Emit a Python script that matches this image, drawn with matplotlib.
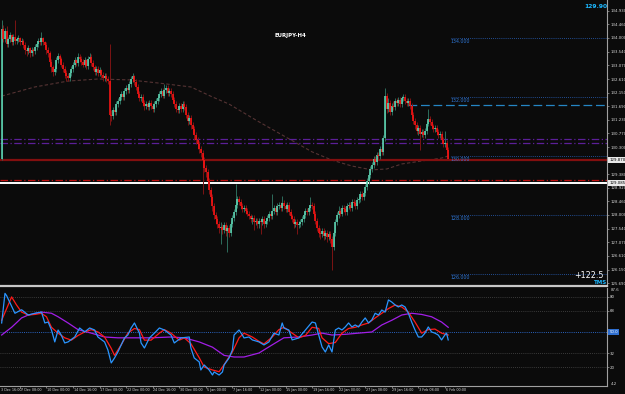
import matplotlib
matplotlib.use('Agg')
import matplotlib.pyplot as plt
import matplotlib.transforms as mtransforms
import numpy as np

# EURJPY H4 chart (MT4 style)

first_open = 129.90
closes = [
    134.30, 133.95, 134.25, 133.80, 133.95, 134.10, 133.85, 134.05, 133.90, 133.95,
    134.00, 133.85, 133.90, 133.75, 133.60, 133.55, 133.65, 133.50, 133.60, 133.55,
    133.70, 133.80, 133.90, 133.85, 134.00, 133.85, 133.75, 133.60, 133.50, 133.20,
    133.00, 132.85, 132.95, 133.25, 133.40, 133.30, 133.10, 132.95, 132.80, 132.70,
    132.65, 132.80, 132.95, 133.10, 133.25, 133.15, 133.35, 133.30, 133.20, 133.10,
    133.25, 133.05, 133.30, 133.35, 133.15, 133.00, 132.85, 132.95, 132.80, 132.90,
    132.75, 132.65, 132.70, 132.60, 132.55, 131.40, 131.35, 131.55, 131.50, 131.75,
    131.85, 132.00, 132.10, 132.00, 132.20, 132.30, 132.25, 132.45, 132.60, 132.70,
    132.50, 132.35, 132.10, 131.95, 132.00, 131.80, 131.70, 131.75, 131.65, 131.80,
    131.70, 131.60, 131.75, 131.85, 131.95, 132.10, 132.20, 132.05, 132.25, 132.30,
    132.15, 132.20, 132.10, 131.90, 131.75, 131.60, 131.55, 131.70, 131.60, 131.75,
    131.65, 131.40, 131.20, 131.30, 131.05, 130.90, 130.70, 130.55, 130.40, 130.25,
    130.10, 129.85, 129.60, 129.45, 129.15, 128.85, 128.60, 128.30, 128.00, 127.85,
    127.70, 127.55, 127.60, 127.50, 127.65, 127.45, 127.55, 127.40, 127.70, 127.90,
    128.10, 128.35, 128.55, 128.45, 128.30, 128.20, 128.25, 128.15, 128.05, 127.95,
    127.85, 127.90, 127.75, 127.80, 127.70, 127.80, 127.75, 127.85, 127.70, 127.80,
    127.90, 128.05, 127.95, 128.15, 128.25, 128.10, 128.30, 128.35, 128.25, 128.40,
    128.30, 128.20, 128.35, 128.10, 127.95, 127.85, 127.70, 127.75, 127.65, 127.70,
    127.75, 127.85, 128.00, 128.15, 128.10, 128.25, 128.35, 128.30, 128.05, 127.80,
    127.55, 127.40, 127.35, 127.45, 127.30, 127.40, 127.25, 127.35, 127.20, 126.90,
    127.40, 127.75, 128.00, 128.15, 128.05, 128.25, 128.20, 128.10, 128.30, 128.35,
    128.25, 128.45, 128.40, 128.30, 128.50, 128.55, 128.70, 128.60, 128.75, 128.95,
    129.15, 129.35, 129.55, 129.70, 129.90, 129.80, 130.05, 130.00, 130.25, 130.15,
    130.60, 132.05, 131.60, 131.80, 131.50, 131.70, 131.65, 131.85, 131.80, 131.90,
    131.75, 131.95, 132.00, 131.85, 131.80, 131.85, 131.70, 131.40, 131.20, 131.05,
    130.85, 130.95, 130.75, 130.80, 130.70, 130.85, 131.10, 131.25, 131.15, 131.00,
    130.90, 130.95, 130.80, 130.70, 130.75, 130.55, 130.40, 130.45, 130.20, 129.90,
]
highs = [
    134.60, 134.45, 134.35, 134.40, 134.05, 134.20, 134.15, 134.15, 134.60, 134.05,
    134.10, 134.05, 134.00, 133.95, 133.85, 133.70, 133.75, 133.70, 133.70, 133.65,
    133.80, 133.90, 134.00, 134.05, 134.20, 134.05, 133.90, 133.85, 133.70, 133.55,
    133.30, 133.10, 133.05, 133.35, 133.50, 133.45, 133.35, 133.20, 133.05, 132.90,
    132.80, 132.90, 133.05, 133.20, 133.35, 133.30, 133.50, 133.45, 133.40, 133.30,
    133.35, 133.30, 133.40, 133.50, 133.45, 133.25, 133.10, 133.05, 133.05, 133.00,
    132.95, 132.85, 132.80, 132.80, 132.70, 133.80, 131.55, 131.65, 131.70, 131.85,
    131.95, 132.10, 132.20, 132.15, 132.30, 132.40, 132.40, 132.55, 132.70, 132.80,
    132.75, 132.60, 132.45, 132.20, 132.10, 132.10, 131.90, 131.85, 131.85, 131.90,
    131.90, 131.80, 131.85, 131.95, 132.05, 132.20, 132.30, 132.30, 132.45, 132.40,
    132.40, 132.30, 132.30, 132.20, 132.00, 131.85, 131.70, 131.80, 131.80, 131.85,
    131.85, 131.75, 131.50, 131.40, 131.40, 131.15, 131.00, 130.80, 130.65, 130.50,
    130.35, 130.20, 129.95, 129.70, 129.55, 129.25, 128.95, 128.70, 128.40, 128.10,
    127.95, 127.80, 127.75, 127.70, 127.75, 127.75, 127.65, 127.65, 127.80, 128.00,
    128.20, 129.05, 128.65, 128.65, 128.55, 128.40, 128.35, 128.35, 128.25, 128.15,
    128.05, 128.00, 128.00, 127.90, 127.90, 127.90, 127.90, 127.95, 127.95, 127.90,
    128.00, 128.15, 128.15, 128.70, 128.35, 128.35, 128.40, 128.45, 128.45, 128.65,
    128.50, 128.40, 128.45, 128.45, 128.20, 128.05, 127.95, 127.85, 127.85, 127.80,
    127.85, 127.95, 128.10, 128.25, 128.25, 128.35, 128.60, 128.45, 128.40, 128.15,
    127.90, 127.65, 127.55, 127.55, 127.55, 127.50, 127.50, 127.45, 127.45, 127.30,
    127.50, 127.85, 128.10, 128.30, 128.25, 128.35, 128.35, 128.30, 128.40, 128.45,
    128.45, 128.55, 128.55, 128.50, 128.60, 128.65, 128.80, 128.80, 128.85, 129.05,
    129.25, 129.45, 129.65, 129.80, 130.00, 130.00, 130.15, 130.15, 130.35, 130.35,
    130.70, 132.30, 132.15, 131.95, 131.90, 131.80, 131.85, 131.95, 131.95, 132.00,
    132.00, 132.05, 132.10, 132.10, 131.95, 131.95, 131.95, 131.80, 131.50, 131.30,
    131.15, 131.05, 131.05, 130.90, 130.90, 130.95, 131.20, 131.60, 131.35, 131.25,
    131.10, 131.05, 131.05, 130.90, 130.85, 130.85, 130.65, 130.85, 130.55, 130.30,
]
lows = [
    129.85, 133.85, 133.85, 133.70, 133.70, 133.85, 133.75, 133.75, 133.80, 133.80,
    133.85, 133.75, 133.80, 133.65, 133.45, 133.40, 133.45, 133.35, 133.40, 133.40,
    133.45, 133.60, 133.70, 133.75, 133.75, 133.75, 133.65, 133.45, 133.35, 133.05,
    132.85, 132.70, 132.75, 132.85, 133.15, 133.20, 133.00, 132.85, 132.65, 132.55,
    132.55, 132.55, 132.70, 132.85, 133.00, 133.05, 133.05, 133.20, 133.10, 133.00,
    133.00, 132.95, 132.95, 133.20, 133.05, 132.90, 132.75, 132.75, 132.70, 132.70,
    132.65, 132.55, 132.55, 132.50, 132.45, 131.05, 131.20, 131.25, 131.40, 131.40,
    131.65, 131.75, 131.90, 131.90, 131.90, 132.10, 132.15, 132.15, 132.35, 132.50,
    132.40, 132.25, 132.00, 131.85, 131.85, 131.70, 131.55, 131.60, 131.55, 131.55,
    131.60, 131.50, 131.50, 131.65, 131.75, 131.85, 132.00, 131.95, 131.95, 132.15,
    132.05, 132.05, 132.00, 131.80, 131.65, 131.50, 131.45, 131.45, 131.50, 131.50,
    131.55, 131.30, 131.05, 131.10, 130.90, 130.75, 130.55, 130.40, 130.25, 130.10,
    129.95, 128.70, 129.45, 129.30, 129.00, 128.70, 128.45, 128.15, 127.85, 127.70,
    127.55, 127.40, 127.00, 127.35, 127.40, 127.30, 126.75, 127.25, 127.30, 127.60,
    127.80, 128.00, 128.25, 128.35, 128.20, 128.10, 128.10, 128.05, 127.95, 127.85,
    127.75, 127.70, 127.50, 127.65, 127.55, 127.55, 127.35, 127.65, 127.55, 127.60,
    127.70, 127.80, 127.85, 127.85, 128.05, 128.00, 128.00, 128.20, 128.15, 128.15,
    128.20, 128.10, 128.10, 128.00, 127.85, 127.75, 127.55, 127.60, 127.35, 127.55,
    127.60, 127.65, 127.75, 127.90, 128.00, 128.00, 128.15, 128.20, 127.95, 127.70,
    127.45, 127.25, 127.20, 127.25, 127.15, 127.20, 127.10, 127.15, 127.05, 126.15,
    126.80, 127.30, 127.65, 127.90, 127.95, 127.95, 128.10, 128.00, 128.00, 128.20,
    128.15, 128.15, 128.30, 128.20, 128.20, 128.40, 128.45, 128.50, 128.50, 128.65,
    128.85, 129.05, 129.25, 129.45, 129.60, 129.70, 129.70, 129.90, 129.90, 130.05,
    130.05, 130.50, 131.45, 131.50, 131.40, 131.40, 131.55, 131.55, 131.70, 131.70,
    131.65, 131.65, 131.85, 131.75, 131.70, 131.70, 131.60, 131.30, 131.10, 130.90,
    130.75, 130.70, 130.20, 130.65, 130.60, 130.60, 130.75, 131.00, 131.05, 130.90,
    130.80, 130.80, 130.70, 130.60, 130.60, 130.45, 130.30, 130.30, 130.10, 129.85,
]

# moving average (dashed brown curve), sampled at bar positions
ma_bars = [0, 20, 40, 58, 77, 95, 114, 127, 137, 154, 170, 187, 199, 211, 223, 232, 241, 253, 265, 269]
ma_vals = [132.03, 132.34, 132.54, 132.61, 132.58, 132.47, 132.34, 132.00, 131.76, 131.19,
           130.68, 130.14, 129.86, 129.66, 129.53, 129.56, 129.73, 129.83, 129.93, 130.00]

# horizontal objects on the price pane
round_levels = [134.0, 132.0, 130.0, 128.0, 126.0]
round_labels = ['134.000', '132.000', '130.000', '128.000', '126.000']
resist_price = 131.73
resist_start = 245
purple_levels = [130.58, 130.44]
bid_price = 129.87
red_dashdot = 129.19
white_line = 129.085

price_ticks = [134.93, 134.46, 134.00, 133.54, 133.07, 132.61, 132.15, 131.69, 131.23, 130.77,
               130.30, 129.38, 128.92, 128.46, 128.00, 127.54, 127.07, 126.61, 126.15, 125.69]
price_tick_labels = ['%.3f' % p for p in price_ticks]

# oscillator pane
blue_bars = [0, 2, 3, 5, 8, 12, 16, 20, 24, 26, 28, 30, 32, 34, 36, 38, 40, 44, 47, 50,
             53, 56, 58, 62, 64, 66, 68, 70, 72, 74, 76, 78, 80, 83, 84, 86, 89, 92, 95, 98,
             102, 104, 108, 113, 114, 116, 119, 120, 122, 125, 127, 128, 131, 133, 134, 137, 139, 140, 143, 145,
             146, 149, 151, 155, 158, 161, 164, 167, 169, 170, 173, 175, 179, 183, 187, 189, 191, 193, 195, 197,
             199, 201, 203, 205, 207, 209, 211, 213, 215, 217, 219, 221, 223, 225, 227, 229, 231, 233, 235, 237,
             239, 241, 243, 245, 247, 249, 251, 253, 255, 257, 259, 261, 263, 265, 267, 268, 269]
blue_vals = [57.7, 83, 81, 75, 66, 69, 64.5, 66, 67, 57.7, 58.5, 51.7, 41.5, 51.7, 47, 40.6, 41.5, 45.7, 53.4, 50,
             53.4, 51.7, 45.7, 41.5, 34.6, 23.5, 27.8, 32.9, 38.9, 44.9, 47.4, 53.4, 57.7, 49, 40.6, 36.3, 44.9, 49, 53.4, 51.7,
             47.4, 40.6, 44.9, 45.7, 36.3, 27.8, 24.4, 17.5, 21.8, 17.5, 13.2, 15.8, 13.2, 15.8, 21.8, 27.8, 34.6, 47.4, 51.7, 47.4,
             44.9, 45.7, 43.2, 41.5, 38.9, 41.5, 49, 47.4, 57.7, 53.4, 51.7, 43.2, 44.9, 51.7, 58.5, 57.7, 47.4, 37.2, 32.9, 38.9,
             32.9, 51.7, 53.4, 51.7, 54.3, 57.7, 54.3, 56, 54.3, 58.5, 62, 57.7, 60.3, 66, 64.5, 68.8, 67, 77.4, 75.6, 73.1,
             71.4, 73.1, 71.4, 66, 58.5, 51.7, 45.7, 45.7, 49, 54.3, 50, 49, 47.4, 43.2, 47.4, 49, 43.2]
red_bars = [0, 3, 6, 9, 12, 16, 20, 24, 27, 30, 34, 38, 42, 46, 50, 54, 58, 62, 66, 68,
            72, 76, 80, 83, 86, 90, 95, 98, 102, 107, 110, 114, 119, 122, 127, 131, 134, 139, 143, 146,
            151, 155, 158, 163, 167, 170, 175, 179, 183, 187, 191, 193, 197, 201, 205, 209, 213, 217, 221, 225,
            229, 233, 237, 241, 245, 249, 253, 257, 261, 265, 269]
red_vals = [60, 70, 80, 73, 67, 64.5, 65, 66, 63, 54, 49, 45, 43, 47, 50, 52, 50, 45.7, 36, 30,
            39, 49, 53, 52, 43, 43, 49, 52, 49, 43, 45, 40, 28, 20, 17.5, 16, 22, 33, 45, 49,
            45.7, 42, 39.8, 45.7, 52, 54, 49, 45, 47, 54, 53, 45, 40, 41, 49, 53, 54, 56, 57.7, 62,
            66, 70, 73, 71.4, 67, 58.5, 49, 52, 52.5, 49, 47.4]
purple_bars = [0, 6, 12, 16, 24, 30, 34, 40, 46, 54, 62, 70, 80, 90, 102, 110, 119, 127, 134, 140,
               146, 155, 163, 170, 179, 187, 193, 199, 207, 215, 223, 229, 235, 241, 247, 253, 259, 265, 269]
purple_vals = [47.4, 54, 62, 64.5, 67, 66, 63, 57.7, 52, 49, 45.7, 45, 45, 45, 45.7, 45, 41.5, 37, 30, 28.6,
               28.6, 32, 39, 45, 45.7, 47.4, 49, 47.4, 48, 49, 50, 56, 60, 64.5, 66, 65, 63, 58.5, 54]
osc_levels = [80, 68, 32, 20]
osc_labels = ['80', '68', '32', '20']

date_bars = [-1, 11, 27, 43, 59, 75, 91, 107, 123, 139, 155, 171, 187, 203, 219, 235, 251, 267]
date_labels = ['3 Dec 16:00', '7 Dec 08:00', '10 Dec 00:00', '14 Dec 16:00', '17 Dec 08:00',
               '22 Dec 00:00', '24 Dec 16:00', '30 Dec 00:00', '5 Jan 00:00', '7 Jan 16:00',
               '12 Jan 00:00', '15 Jan 00:00', '19 Jan 16:00', '22 Jan 00:00', '27 Jan 08:00',
               '29 Jan 16:00', '3 Feb 08:00', '6 Feb 00:00']

bg = '#0b0b0b'
W, H = 625, 394
xmax = 607 / 1.66 - 1

fig = plt.figure(figsize=(W / 100, H / 100), dpi=100)
fig.patch.set_facecolor(bg)
ax = fig.add_axes([0, 1 - 286 / H, 607 / W, 286 / H])
ax2 = fig.add_axes([0, 1 - 386 / H, 607 / W, 98 / H])

for a in (ax, ax2):
    a.set_facecolor(bg)
    a.set_xlim(-1, xmax)
    a.spines['top'].set_visible(False)
    a.spines['left'].set_visible(False)
    a.spines['right'].set_color('#a0a0a0')
    a.spines['right'].set_linewidth(0.8)
    a.yaxis.tick_right()
    a.tick_params(axis='y', colors='#a0a0a0', labelcolor='#d8d8d8', labelsize=2.8,
                  length=1.5, width=0.5, pad=0.8)

ax.set_ylim(125.593, 135.288)
ax.spines['bottom'].set_color('#c8c8c8')
ax.spines['bottom'].set_linewidth(1.6)
ax.set_xticks([])

# ---- candles
x = np.arange(len(closes))
c = np.array(closes)
o = np.array([first_open] + closes[:-1])
hi = np.array(highs)
lo = np.array(lows)
up = c >= o
body_lo = np.minimum(o, c)
body_hi = np.maximum(np.maximum(o, c), body_lo + 0.02)
wick_col = np.where(up, '#2e6d5c', '#7c1414')
body_col = np.where(up, '#5fd6b4', '#ff1414')
ax.vlines(x, lo, hi, colors=list(wick_col), lw=0.7, zorder=3)
ax.vlines(x, body_lo, body_hi, colors=list(body_col), lw=1.15, zorder=4)

# ---- moving average
ax.plot(ma_bars, ma_vals, color='#553333', lw=0.8, ls=(0, (3, 2)), zorder=2)

# ---- horizontal lines
for p in purple_levels:
    ax.axhline(p, color='#5c1f99', lw=0.9, ls=(0, (6, 2, 1, 2)), zorder=2)
ax.axhline(bid_price, color='#820f0f', lw=1.6, zorder=2)
ax.axhline(red_dashdot, color='#c01010', lw=0.9, ls=(0, (6, 2, 1, 2)), zorder=2)
ax.axhline(white_line, color='white', lw=1.4, zorder=2)
ax.hlines(resist_price, resist_start, xmax, color='#2586c4', lw=0.9, ls=(0, (7, 3)), zorder=2)

lvl_start = len(closes) + 0.5
ax.hlines(round_levels, lvl_start, xmax, color='#2a63c0', lw=0.6, ls=(0, (1, 1.5)), zorder=2)
for p, t in zip(round_levels, round_labels):
    ax.text(lvl_start, p - 0.02, t, color='#2f78d8', fontsize=3.4, ha='left', va='top', zorder=5)

# ---- right price scale
ax.set_yticks(price_ticks)
ax.set_yticklabels(price_tick_labels)
tr = mtransforms.blended_transform_factory(ax.transAxes, ax.transData)
ax.text(1.004, bid_price, '129.870', transform=tr, fontsize=2.8, color='black', va='center',
        ha='left', clip_on=False, bbox=dict(boxstyle='square,pad=0.25', fc='#e8e8e8', ec='none'))
ax.text(1.004, white_line, '129.085', transform=tr, fontsize=2.8, color='black', va='center',
        ha='left', clip_on=False, bbox=dict(boxstyle='square,pad=0.25', fc='#e8e8e8', ec='none'))

# ---- labels
ax.text(290 / 607, 1 - 36 / 286, 'EURJPY-H4', transform=ax.transAxes, color='white',
        fontsize=3.9, fontweight='bold', ha='center', va='center')
ax.text(1.0, 1 - 7 / 286, '129.90', transform=ax.transAxes, color='#1cb8ff',
        fontsize=4.3, fontweight='bold', ha='right', va='center')
ax.text(604 / 607, 1 - 275 / 286, '+122.5', transform=ax.transAxes, color='white',
        fontsize=5.8, ha='right', va='center')
ax.text(1.0, 1 - 283 / 286, 'TMS', transform=ax.transAxes, color='#1cb8ff',
        fontsize=4.0, fontweight='bold', ha='right', va='center')

# ---- oscillator pane
ax2.set_ylim(3.8, 87.6)
ax2.spines['bottom'].set_color('#a0a0a0')
ax2.spines['bottom'].set_linewidth(0.8)
for v in osc_levels:
    ax2.axhline(v, color='#4a4a4a', lw=0.6, ls=(0, (1, 1.5)))
ax2.axhline(50, color='#2a63c0', lw=0.7, ls=(0, (1, 1.2)))
ax2.plot(purple_bars, purple_vals, color='#a21ee6', lw=0.9, zorder=3)
ax2.plot(red_bars, red_vals, color='#ff1a1a', lw=0.9, zorder=4)
ax2.plot(blue_bars, blue_vals, color='#2a95ff', lw=0.9, zorder=5)

ax2.set_yticks(osc_levels)
ax2.set_yticklabels(osc_labels)
tr2 = mtransforms.blended_transform_factory(ax2.transAxes, ax2.transData)
ax2.text(1.006, 87.6, '87.6', transform=tr2, fontsize=2.8, color='#d8d8d8', va='top', ha='left')
ax2.text(1.006, 3.8, '4.2', transform=tr2, fontsize=2.8, color='#d8d8d8', va='bottom', ha='left')
ax2.text(1.004, 50, '50.0', transform=tr2, fontsize=2.8, color='white', va='center', ha='left',
         clip_on=False, bbox=dict(boxstyle='square,pad=0.25', fc='#2f6fd0', ec='none'))

# ---- time scale
ax2.set_xticks([b for b in date_bars if b >= 0])
ax2.set_xticklabels([])
ax2.tick_params(axis='x', colors='#a0a0a0', length=1.5, width=0.5)
trx = mtransforms.blended_transform_factory(ax2.transData, ax2.transAxes)
for b, t in zip(date_bars, date_labels):
    ax2.text(b + 0.4, -0.02, t, transform=trx, fontsize=2.45, color='#d8d8d8',
             ha='left', va='top', clip_on=False)

fig.savefig('out.png', dpi=100, facecolor=bg)
